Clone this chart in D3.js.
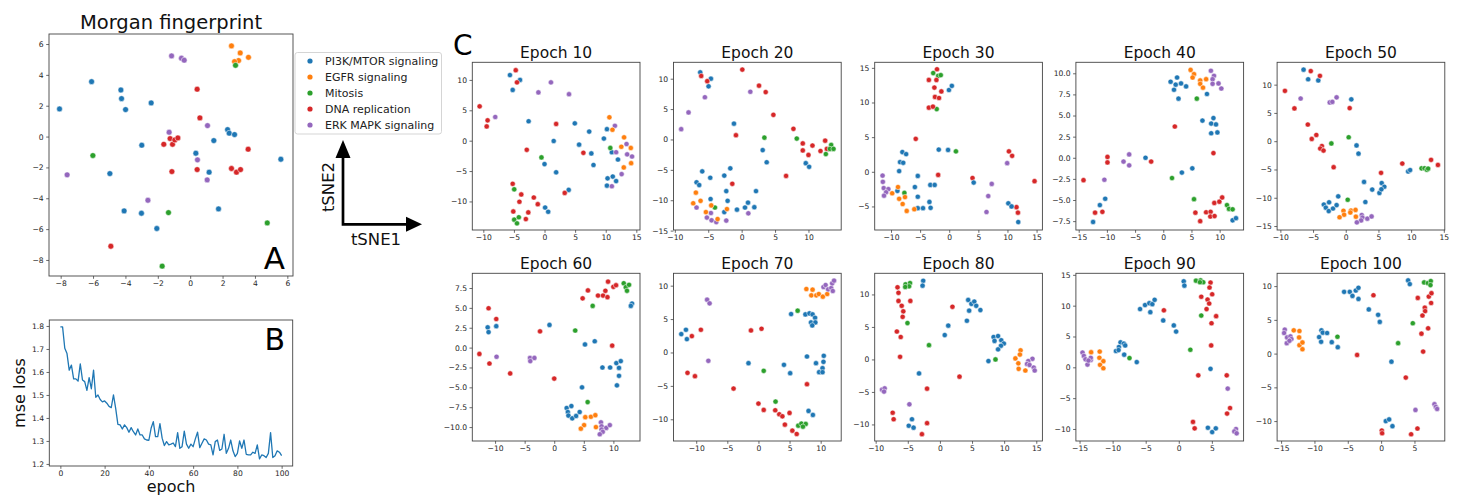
<!DOCTYPE html>
<html>
<head>
<meta charset="utf-8">
<script src="https://cdn.jsdelivr.net/npm/d3@7"></script>
<style>
  body { margin: 0; background: #fff; }
  svg { display: block; }
  text { font-family: "DejaVu Sans", sans-serif; }
</style>
</head>
<body>
<svg id="fig" width="1458" height="498"></svg>
<script>
// ---- categories ----
const pathways = ["PI3K/MTOR signaling", "EGFR signaling", "Mitosis", "DNA replication", "ERK MAPK signaling"];
const palette = ["#1f77b4", "#ff7f0e", "#2ca02c", "#d62728", "#9467bd"];

// ---- Morgan fingerprint t-SNE: [tSNE1, tSNE2, pathway index] ----
const morgan = [
  [2.55,5.88,1],[3.09,5.42,1],[2.99,4.93,1],[2.74,4.86,1],[3.6,5.14,1],
  [2.8,4.62,2],[-6.01,-1.23,2],[-1.34,-4.93,2],[-1.73,-8.4,2],[4.76,-5.6,2],
  [-1.15,5.23,4],[-0.54,5.08,4],[-0.37,4.95,4],[1.07,0.71,4],[-1.3,0.28,4],[0.45,-1.51,4],[1.05,-2.81,4],[-7.6,-2.48,4],[-2.61,-4.13,4],
  [-6.09,3.56,0],[-4.28,3.02,0],[-4.24,2.46,0],[-3.99,1.75,0],[-8.07,1.79,0],[-2.41,2.18,0],[-2.99,-0.56,0],[-4.96,-2.4,0],[2.31,0.45,0],[2.41,0.22,0],[2.74,0.13,0],[1.46,-0.26,0],[0.35,-1.08,0],[1.17,-2.31,0],[5.6,-1.47,0],[-4.08,-4.82,0],[-3.01,-4.97,0],[-2.06,-5.96,0],[1.75,-4.69,0],
  [0.43,3.07,3],[0.6,1.21,3],[-1.63,-0.5,3],[-1.24,-0.13,3],[-1.09,-0.5,3],[-0.95,-0.22,3],[-0.76,-0.09,3],[-1.13,-2.27,3],[0.43,-2.14,3],[2.55,-2.07,3],[2.86,-2.31,3],[3.11,-2.14,3],[3.58,-0.82,3],[-4.9,-7.11,3]
];
const morganXLim = [-8.72, 6.35];
const morganYLim = [-9.04, 6.65];
const morganTicks = [-8, -6, -4, -2, 0, 2, 4, 6];

// ---- training loss per epoch (0..100) ----
const mseLoss = [
  1.796,1.796,1.703,1.68,1.608,1.63,1.57,1.57,1.56,1.635,
  1.565,1.558,1.52,1.575,1.527,1.608,1.49,1.5,1.48,1.47,
  1.474,1.464,1.45,1.445,1.5,1.442,1.372,1.37,1.352,1.37,
  1.358,1.338,1.358,1.34,1.326,1.352,1.326,1.326,1.309,1.304,
  1.303,1.355,1.384,1.319,1.319,1.375,1.312,1.28,1.297,1.283,
  1.286,1.291,1.275,1.336,1.268,1.275,1.343,1.286,1.268,1.286,
  1.275,1.309,1.338,1.271,1.29,1.309,1.304,1.286,1.283,1.239,
  1.297,1.304,1.259,1.265,1.329,1.246,1.268,1.304,1.257,1.232,
  1.246,1.3,1.268,1.304,1.242,1.239,1.239,1.251,1.246,1.283,
  1.222,1.239,1.236,1.228,1.246,1.336,1.228,1.236,1.257,1.251,
  1.236
];
const lossXTicks = [0, 20, 40, 60, 80, 100];
const lossYTicks = [1.2, 1.3, 1.4, 1.5, 1.6, 1.7, 1.8];

// ---- learned embedding t-SNE per epoch: [tSNE1, tSNE2, pathway index] ----
const ep10 = [
  [-5.65,10.8,0],[-4.0,10.0,0],[-5.2,8.35,0],[-2.6,3.2,0],[1.5,-0.05,0],[4.95,2.85,0],[5.65,-0.65,0],[7.3,1.5,0],[7.65,-2.1,0],[8.0,-4.0,0],[10.2,1.9,0],[9.7,0.35,0],[11.0,-1.9,0],[12.0,-3.1,0],[0,-3.85,0],[1.9,-5.2,0],[3.95,-8.1,0],[10.3,-6.2,0],[11.15,-5.9,0],[11.7,-6.65,0],[10.2,-7.4,0],[0.1,-11.0,0],[0.6,-11.7,0],
  [-4.7,11.6,3],[-4.5,9.6,3],[-10.6,5.65,3],[-9.3,3.35,3],[-9.45,2.35,3],[1.9,2.75,3],[-2.9,-1.5,3],[6.35,-2.0,3],[-5.2,-7.1,3],[-3.8,-8.85,3],[-4.1,-10.05,3],[-1.75,-9.35,3],[-1.1,-10.45,3],[-5.1,-11.65,3],[-2.65,-11.8,3],[-3.05,-12.9,3],[3.3,-8.6,3],
  [1.05,9.6,4],[-1.0,7.95,4],[4.0,7.65,4],[-8.05,3.9,4],[11.5,2.45,4],[13.4,-0.55,4],[11.7,-1.9,4],[13.5,-2.25,4],[14.3,-2.6,4],[12.6,-5.5,4],[11.0,-7.5,4],
  [10.6,3.85,1],[11.1,1.8,1],[13.0,0.55,1],[12.55,-1.0,1],[14.1,-1.2,1],[14.15,-3.7,1],[12.95,-4.4,1],
  [-0.5,-2.75,2],[10.75,-1.2,2],[-4.95,-8.0,2],[-4.95,-13.0,2],[-4.5,-13.6,2],[-4.2,-12.6,2]
];
const ep20 = [
  [-6.2,11.05,0],[-4.6,10.0,0],[-4.95,8.75,0],[-1.15,2.6,0],[3.15,-1.75,0],[3.75,-3.75,0],[9.6,-3.9,0],[10.1,-4.5,0],[-5.9,-5.25,0],[-4.7,-6.3,0],[-2.6,-5.95,0],[-1.7,-4.75,0],[-6.75,-7.05,0],[-6.35,-7.5,0],[-2.3,-8.5,0],[2.15,-8.5,0],[-4.65,-9.8,0],[-2.1,-10.1,0],[0.95,-10.4,0],[0.5,-11.2,0],[1.9,-11.15,0],[-0.7,-11.55,0],[-2.6,-11.95,0],
  [0.1,11.5,3],[-6.05,10.45,3],[-5.15,9.6,3],[2.6,8.85,3],[3.6,7.8,3],[4.75,4.05,3],[-0.85,0.7,3],[7.75,1.75,3],[9.15,-0.65,3],[10.6,-1.0,3],[12.5,-0.2,3],[9.15,-1.8,3],[10.0,-2.55,3],[11.8,-1.9,3],[12.75,-1.55,3],[6.65,-6.0,3],[-1.4,-7.3,3],
  [3.4,0.3,2],[8.25,0.15,2],[13.4,-0.9,2],[13.2,-1.55,2],[13.75,-1.55,2],[12.6,-2.4,2],[-4.0,-11.2,2],
  [1.3,7.85,4],[-5.5,6.95,4],[-7.95,4.45,4],[-9.05,1.7,4],[-6.75,-11.2,4],[-4.6,-12.1,4],[-5.2,-12.85,4],[-4.5,-13.3,4],[-3.8,-13.6,4],[-2.3,-13.35,4],[1.0,-12.15,4],
  [-6.85,-8.75,1],[-7.25,-10.5,1],[-6.15,-10.1,1],[-4.55,-10.85,1],[-5.35,-11.95,1],[-2.2,-11.45,1],[-3.6,-13.1,1]
];
const ep30 = [
  [-2.75,14.25,2],[-1.9,13.85,2],[-1.45,13.95,2],[-2.15,9.05,2],[1.15,2.95,2],[-7.7,-3.05,2],
  [-2.1,14.8,3],[-3.5,13.25,3],[-2.2,13.25,3],[-2.55,12.15,3],[-1.35,11.6,3],[-2.45,10.8,3],[-1.75,10.65,3],[-3.5,9.25,3],[-2.8,9.4,3],[-5.75,4.75,3],[-1.9,-0.45,3],[4.0,-0.9,3],[10.25,2.95,3],[10.8,2.3,3],[14.65,-1.35,3],[11.55,-5.1,3],[11.8,-5.9,3],
  [-0.05,11.8,0],[0.45,12.4,0],[-8.05,2.85,0],[-7.4,2.55,0],[-8.45,1.4,0],[-7.9,1.3,0],[-8.6,0.1,0],[-1.8,3.2,0],[-0.2,3.15,0],[-5.4,-0.6,0],[-5.9,-2.2,0],[-3.25,-1.9,0],[-2.5,-1.9,0],[-5.4,-3.6,0],[-8.9,-2.75,0],[-5.4,-5.25,0],[-4.5,-5.25,0],[-3.4,-4.35,0],[-3.2,-5.2,0],[4.2,-1.55,0],[10.15,-4.55,0],[10.7,-5.0,0],[11.85,-7.25,0],
  [-11.45,-0.55,4],[-11.4,-1.45,4],[-11.25,-2.35,4],[-10.45,-2.5,4],[-10.85,-2.95,4],[-11.2,-3.45,4],[9.95,1.25,4],[7.3,-1.75,4],[6.7,-3.5,4],[6.4,-5.8,4],
  [-8.8,-2.2,1],[-9.8,-3.1,1],[-8.6,-3.9,1],[-7.6,-3.65,1],[-8.0,-4.65,1],[-7.3,-5.65,1],[-6.0,-5.4,1]
];
const ep40 = [
  [1.3,9.0,0],[2.45,9.5,0],[2.2,8.65,0],[3.15,8.8,0],[1.9,8.05,0],[4.05,8.45,0],[2.7,7.0,0],[7.75,7.55,0],[8.9,4.7,0],[6.95,4.4,0],[8.5,4.05,0],[9.35,3.95,0],[8.5,2.9,0],[9.6,3.0,0],[-3.15,0.0,0],[3.3,-1.75,0],[5.15,-1.25,0],[-10.3,-4.85,0],[-11.25,-5.6,0],[-12.45,-7.6,0],[12.3,-7.4,0],[12.9,-7.15,0],
  [4.85,10.4,1],[5.45,9.9,1],[5.2,9.5,1],[6.55,9.15,1],[6.55,8.75,1],[7.6,9.3,1],[7.05,8.3,1],
  [8.45,10.3,4],[9.0,9.7,4],[8.75,9.3,4],[9.8,8.8,4],[8.75,8.75,4],[10.3,8.2,4],[-7.05,-0.45,4],[-6.05,0.4,4],[-6.05,-0.9,4],[-10.45,-2.6,4],
  [5.95,7.0,2],[1.55,-2.4,2],[5.45,-4.9,2],[11.3,-5.6,2],[11.65,-6.05,2],[12.3,-6.1,2],
  [2.05,3.7,3],[8.9,0.55,3],[-2.15,-0.45,3],[-9.9,0.1,3],[-9.9,-0.55,3],[-14.15,-2.65,3],[-12.1,-6.5,3],[-10.8,-6.4,3],[5.7,-6.5,3],[6.55,-7.5,3],[7.6,-6.45,3],[8.4,-6.4,3],[8.35,-6.95,3],[9.1,-6.9,3],[9.05,-5.35,3],[9.95,-5.2,3],[10.45,-4.7,3]
];
const ep50 = [
  [-6.45,12.65,0],[-5.75,10.95,0],[-4.2,10.75,0],[0.85,7.4,0],[1.65,-0.75,0],[1.95,-2.2,0],[9.55,-5.35,0],[9.85,-5.1,0],[2.8,-7.2,0],[4.05,-8.55,0],[5.5,-7.4,0],[5.9,-8.05,0],[5.15,-9.15,0],[5.45,-8.5,0],[-1.15,-9.75,0],[3.0,-10.75,0],[-3.35,-11.2,0],[-3.05,-11.75,0],[-2.55,-10.8,0],[-2.6,-12.35,0],[-1.95,-11.9,0],[-1.4,-11.3,0],
  [-5.35,12.4,3],[-3.95,11.55,3],[-9.3,8.9,3],[-7.85,5.8,3],[0.6,5.85,3],[-5.8,2.95,3],[-4.5,1.1,3],[-5.2,0.4,3],[-3.65,-0.85,3],[-3.9,-1.3,3],[-3.4,-1.65,3],[-1.85,-4.6,3],[5.4,-5.6,3],[8.65,-3.95,3],[13.05,-3.3,3],[14.1,-4.2,3],
  [-6.9,7.55,4],[-2.45,6.85,4],[-2.05,6.95,4],[-1.4,7.75,4],[2.45,-13.05,4],[2.55,-13.5,4],[2.35,-14.0,4],[1.7,-14.35,4],[3.3,-13.7,4],[3.95,-13.3,4],
  [-2.2,-0.4,2],[0.45,0.7,2],[0.3,-10.35,2],[11.6,-4.8,2],[12.05,-4.8,2],[12.4,-5.05,2],[12.6,-4.85,2],
  [-0.35,-12.3,1],[0.8,-12.25,1],[1.5,-12.15,1],[-0.25,-13.0,1],[-0.95,-13.45,1],[0.7,-12.6,1],[1.55,-13.35,1]
];
const ep60 = [
  [9.1,8.3,3],[5.7,7.2,3],[7.4,6.55,3],[8.25,6.55,3],[8.65,7.15,3],[9.0,6.35,3],[10.0,7.65,3],[10.45,7.85,3],[4.8,6.2,3],[-11.1,4.95,3],[-9.8,3.6,3],[-2.4,2.05,3],[-12.65,-0.8,3],[-10.95,-2.0,3],[-7.45,-3.25,3],[0,-3.9,3],[9.8,0.25,3],
  [11.75,8.1,2],[12.1,7.6,2],[12.65,7.9,2],[12.3,7.15,2],[6.5,5.25,2],[3.55,2.15,2],[5.65,-6.85,2],
  [13.15,5.55,0],[12.95,5.25,0],[-11.25,2.55,0],[-9.8,2.7,0],[-11.1,1.95,0],[-0.8,2.85,0],[5.2,0.4,0],[6.85,0.8,0],[8.15,-2.5,0],[9.45,-2.5,0],[10.5,-1.95,0],[11.25,-1.7,0],[10.95,-2.55,0],[10.95,-3.55,0],[10.6,-4.75,0],[4.7,-5.0,0],[2.1,-7.6,0],[2.9,-7.35,0],[2.3,-8.1,0],[2.4,-8.55,0],[3.05,-8.9,0],[3.7,-8.6,0],[4.3,-8.1,0],
  [-9.75,-1.15,4],[-4.1,-1.3,4],[-3.35,-1.3,4],[-4.05,-1.7,4],[7.9,-9.4,4],[8.0,-9.9,4],[8.8,-10.1,4],[9.4,-9.75,4],[8.0,-10.3,4],[8.2,-10.6,4],[7.7,-10.9,4],
  [5.25,-8.75,1],[5.05,-9.75,1],[4.5,-10.2,1],[6.2,-8.7,1],[6.95,-8.5,1],[7.05,-10.0,1]
];
const ep70 = [
  [7.7,9.5,1],[8.7,9.4,1],[8.5,8.55,1],[9.3,8.55,1],[9.7,8.75,1],[10.35,8.35,1],[11.05,8.75,1],
  [10.45,9.8,4],[10.8,10.1,4],[11.2,9.45,4],[11.7,9.65,4],[11.95,9.2,4],[11.85,10.35,4],[12.15,10.75,4],[-8.25,7.9,4],[-7.85,7.35,4],[-8.05,-1.25,4],
  [6.3,6.25,2],[0.85,-2.75,2],[2.75,-7.35,2],[6.4,-10.95,2],[6.9,-10.65,2],[7.6,-10.7,2],[7.15,-11.1,2],
  [5.25,5.75,0],[7.55,5.7,0],[8.2,5.85,0],[8.7,5.7,0],[9.1,5.2,0],[8.45,4.5,0],[9.15,4.5,0],[8.65,4.05,0],[-12.4,2.75,0],[-11.65,3.4,0],[-11.5,2.0,0],[7.8,-0.6,0],[10.5,-0.5,0],[10.45,-1.4,0],[9.25,-1.6,0],[10.3,-2.35,0],[9.75,-2.95,0],[10.3,-2.95,0],[-1.6,-1.6,0],[4.1,-1.85,0],[5.1,-3.1,0],[8.05,-8.75,0],[8.75,-9.35,0],
  [-10.7,2.45,3],[-9.25,3.4,3],[-1.2,3.3,3],[0.5,3.55,3],[-11.4,-3.05,3],[-10.2,-3.55,3],[-4.0,-5.4,3],[7.8,-4.75,3],[0,-7.65,3],[0.85,-8.6,3],[2.7,-8.65,3],[3.35,-9.25,3],[3.85,-9.55,3],[5.0,-9.05,3],[4.25,-10.8,3],[5.45,-11.7,3],[6.15,-12.2,3]
];
const ep80 = [
  [-2.6,12.1,0],[-2.7,11.35,0],[4.4,9.15,0],[4.9,8.55,0],[5.35,8.9,0],[5.65,8.25,0],[6.3,7.6,0],[4.55,7.5,0],[4.2,5.95,0],[1.3,5.2,0],[0.75,3.75,0],[8.35,3.45,0],[9.05,3.6,0],[8.5,2.85,0],[9.55,2.95,0],[9.95,2.45,0],[9.5,2.1,0],[9.05,1.55,0],[7.55,-0.25,0],[-3.25,-2.15,0],[-4.35,-9.2,0],[-4.85,-10.2,0],[-4.1,-10.5,0],
  [-5.35,11.55,2],[-4.65,11.75,2],[-4.8,11.25,2],[-5.4,11.15,2],[-5.05,5.6,2],[-1.7,2.2,2],[8.65,0.0,2],
  [-6.6,11.1,3],[-6.45,10.25,3],[-6.45,9.0,3],[-4.6,9.0,3],[-5.95,8.25,3],[-5.7,7.4,3],[-5.8,6.55,3],[-6.7,4.3,3],[-6.1,3.45,3],[-6.2,0.4,3],[1.95,8.1,3],[3.05,-2.65,3],[-2.0,-4.5,3],[-7.35,-8.2,3],[-7.2,-9.2,3],[-2.0,-9.8,3],[-2.8,-11.5,3],
  [12.55,1.4,1],[12.45,0.75,1],[11.75,0.15,1],[12.2,-0.6,1],[12.25,-1.45,1],[13.3,-1.7,1],
  [14.4,0.1,4],[13.75,-0.25,4],[13.55,-0.7,4],[13.95,-0.85,4],[14.6,-1.25,4],[14.75,-1.7,4],[-9.0,-4.65,4],[-8.6,-4.45,4],[-8.7,-4.95,4],[-4.75,-6.9,4]
];
const ep90 = [
  [0.75,13.95,0],[0.85,13.25,0],[-5.85,9.45,0],[-5.1,10.1,0],[-4.45,10.4,0],[-4.0,10.25,0],[-3.65,10.95,0],[-4.3,8.95,0],[-2.35,7.6,0],[-0.75,6.8,0],[-0.4,5.8,0],[-8.8,4.05,0],[-8.3,3.85,0],[-9.05,3.3,0],[-9.5,2.65,0],[-9.1,2.8,0],[-8.1,3.55,0],[-8.25,2.05,0],[-6.35,0.85,0],[4.8,-0.25,0],[4.4,-9.8,0],[5.05,-10.5,0],[5.6,-9.9,0],
  [2.6,14.05,2],[3.3,14.1,2],[3.7,13.8,2],[3.2,13.8,2],[3.4,8.4,2],[1.75,2.85,2],[-7.45,1.5,2],
  [4.8,13.75,3],[4.65,12.95,3],[5.05,11.85,3],[3.4,11.45,3],[4.35,11.0,3],[4.6,10.35,3],[4.2,9.45,3],[5.65,8.3,3],[4.95,7.15,3],[4.9,3.55,3],[-2.25,9.25,3],[2.95,-1.3,3],[7.25,-1.3,3],[7.75,-6.6,3],[7.3,-7.5,3],[2.15,-8.85,3],[2.4,-9.9,3],
  [7.4,-3.45,4],[8.65,-10.0,4],[8.4,-10.4,4],[8.75,-10.7,4],[-14.55,2.4,4],[-14.35,1.85,4],[-14.1,1.3,4],[-13.8,0.45,4],[-13.3,1.2,4],[-13.3,1.55,4],[-13.65,1.1,4],
  [-13.25,2.45,1],[-11.95,2.55,1],[-12.0,1.55,1],[-11.4,1.0,1],[-11.9,0.4,1],[-11.4,-0.15,1]
];
const ep100 = [
  [-14.45,3.55,4],[-14.55,3.05,4],[-14.1,2.4,4],[-13.6,2.55,4],[-13.45,2.15,4],[-14.15,1.55,4],[-13.75,1.9,4],[5.15,-8.35,4],[8.0,-7.5,4],[8.2,-7.9,4],[8.4,-8.2,4],
  [-13.1,3.45,1],[-12.25,3.35,1],[-12.3,2.4,1],[-12.25,1.25,1],[-11.8,1.65,1],[-11.8,0.65,1],
  [-9.3,2.45,0],[-8.95,3.45,0],[-8.75,3.1,0],[-9.0,1.75,0],[-8.1,3.05,0],[-7.4,1.7,0],[-6.5,0.95,0],[-5.55,9.15,0],[-4.7,9.15,0],[-4.3,8.55,0],[-3.8,9.35,0],[-3.4,9.75,0],[-3.4,8.1,0],[-1.85,6.55,0],[-0.45,5.75,0],[-0.2,4.7,0],[4.05,10.85,0],[4.3,10.3,0],[1.55,-1.2,0],[0.7,-10.0,0],[1.2,-9.75,0],[1.7,-10.75,0],
  [6.45,10.55,2],[7.0,10.45,2],[7.45,10.75,2],[7.4,10.15,2],[-6.55,2.5,2],[4.75,4.5,2],[2.55,1.55,2],
  [-1.15,8.65,3],[5.5,8.25,3],[7.15,8.45,3],[7.55,8.95,3],[7.5,7.5,3],[6.55,6.8,3],[6.6,6.3,3],[6.2,5.65,3],[7.05,3.75,3],[6.05,2.95,3],[6.3,0.3,3],[-3.6,-0.2,3],[3.7,-3.55,3],[5.45,-11.1,3],[0.1,-11.4,3],[0.15,-11.8,3],[4.5,-11.95,3]
];

const epochLabels = ["Epoch 10", "Epoch 20", "Epoch 30", "Epoch 40", "Epoch 50", "Epoch 60", "Epoch 70", "Epoch 80", "Epoch 90", "Epoch 100"];
const epochClouds = [ep10, ep20, ep30, ep40, ep50, ep60, ep70, ep80, ep90, ep100];
const epochXLim = [[-11.8,15.6],[-10.2,14.9],[-12.8,16.0],[-15.5,14.25],[-10.5,15.15],[-13.85,14.5],[-13.65,13.3],[-10.15,15.95],[-15.55,9.8],[-15.6,9.55]];
const epochYLim = [[-14.7,12.9],[-14.9,12.7],[-8.4,15.8],[-8.55,11.3],[-15.7,13.95],[-11.75,9.35],[-13.25,11.85],[-12.55,13.25],[-11.95,15.25],[-12.95,11.9]];
const epochXTicks = [
  [-10,-5,0,5,10,15],[-10,-5,0,5,10],[-10,-5,0,5,10,15],[-15,-10,-5,0,5,10],[-10,-5,0,5,10,15],
  [-10,-5,0,5,10],[-10,-5,0,5,10],[-10,-5,0,5,10,15],[-15,-10,-5,0,5],[-15,-10,-5,0,5]
];
const epochYTicks = [
  [-10,-5,0,5,10],[-15,-10,-5,0,5,10],[-5,0,5,10,15],[-7.5,-5,-2.5,0,2.5,5,7.5,10],[-15,-10,-5,0,5,10],
  [-10,-7.5,-5,-2.5,0,2.5,5,7.5],[-10,-5,0,5,10],[-10,-5,0,5,10],[-10,-5,0,5,10,15],[-10,-5,0,5,10]
];
const epochYFormat = ["d","d","d",".1f","d",".1f","d","d","d","d"];

// ---- drawing ----
const svg = d3.select("#fig");
const TICK_FONT = 7.6;
const SPINE = "#444";

function styleAxis(sel) {
  sel.select(".domain").remove();
  sel.selectAll(".tick line").attr("stroke", SPINE).attr("stroke-width", 0.8);
  sel.selectAll(".tick text")
    .attr("fill", "#262626")
    .attr("font-size", TICK_FONT)
    .attr("font-family", "DejaVu Sans, sans-serif");
}

function frame(box) {
  svg.append("rect")
    .attr("x", box.x).attr("y", box.y)
    .attr("width", box.w).attr("height", box.h)
    .attr("fill", "none").attr("stroke", SPINE).attr("stroke-width", 0.9);
}

function axes(box, x, y, xticks, yticks, xfmt, yfmt) {
  svg.append("g")
    .attr("transform", `translate(0,${box.y + box.h})`)
    .call(d3.axisBottom(x).tickValues(xticks).tickFormat(d3.format(xfmt)).tickSize(2.8).tickPadding(2))
    .call(styleAxis);
  svg.append("g")
    .attr("transform", `translate(${box.x},0)`)
    .call(d3.axisLeft(y).tickValues(yticks).tickFormat(d3.format(yfmt)).tickSize(2.8).tickPadding(2.5))
    .call(styleAxis);
}

function scatterPanel(box, pts, xlim, ylim, xticks, yticks, xfmt, yfmt, r) {
  const x = d3.scaleLinear().domain(xlim).range([box.x, box.x + box.w]);
  const y = d3.scaleLinear().domain(ylim).range([box.y + box.h, box.y]);
  axes(box, x, y, xticks, yticks, xfmt, yfmt);
  svg.append("g").selectAll("circle").data(pts).join("circle")
    .attr("cx", d => x(d[0])).attr("cy", d => y(d[1]))
    .attr("r", r)
    .attr("fill", d => palette[d[2]])
    .attr("stroke", "#fff").attr("stroke-width", 0.5);
  frame(box);
}

// Panel A: Morgan fingerprint embedding
const boxA = { x: 49, y: 34, w: 244, h: 242 };
scatterPanel(boxA, morgan, morganXLim, morganYLim, morganTicks, morganTicks, "d", "d", 2.9);
svg.append("text").attr("x", boxA.x + boxA.w / 2).attr("y", boxA.y - 5)
  .attr("text-anchor", "middle").attr("font-size", 19.5).attr("fill", "#111")
  .text("Morgan fingerprint");
svg.append("text").attr("x", 285).attr("y", 269)
  .attr("text-anchor", "end").attr("font-size", 31).attr("fill", "#000").text("A");

// Panel B: loss curve
const boxB = { x: 49.3, y: 320, w: 243.4, h: 146 };
const xL = d3.scaleLinear().domain([-5, 105]).range([boxB.x, boxB.x + boxB.w]);
const yL = d3.scaleLinear().domain([1.191, 1.826]).range([boxB.y + boxB.h, boxB.y]);
axes(boxB, xL, yL, lossXTicks, lossYTicks, "d", ".1f");
svg.append("path")
  .datum(mseLoss)
  .attr("fill", "none").attr("stroke", palette[0]).attr("stroke-width", 1.3)
  .attr("stroke-linejoin", "round")
  .attr("d", d3.line().x((d, i) => xL(i)).y(d => yL(d)));
frame(boxB);
svg.append("text").attr("x", 285).attr("y", 350)
  .attr("text-anchor", "end").attr("font-size", 30).attr("fill", "#000").text("B");
svg.append("text").attr("x", boxB.x + boxB.w / 2).attr("y", 492)
  .attr("text-anchor", "middle").attr("font-size", 16).attr("fill", "#111").text("epoch");
svg.append("text")
  .attr("transform", `translate(25,${boxB.y + boxB.h / 2}) rotate(-90)`)
  .attr("text-anchor", "middle").attr("font-size", 16).attr("fill", "#111").text("mse loss");

// Legend
const legend = svg.append("g");
legend.append("rect").attr("x", 295).attr("y", 52.5).attr("width", 146.5).attr("height", 81.5)
  .attr("rx", 2.5).attr("fill", "#fff").attr("stroke", "#d0d0d0").attr("stroke-width", 0.9);
pathways.forEach((name, i) => {
  const cy = 61 + i * 16;
  legend.append("circle").attr("cx", 310).attr("cy", cy).attr("r", 2.6).attr("fill", palette[i]);
  legend.append("text").attr("x", 325).attr("y", cy + 4)
    .attr("font-size", 11).attr("fill", "#222").text(name);
});

// Axis-direction glyph
const ox = 343, oy = 224.3;
svg.append("path").attr("d", `M${ox},${oy} V152 M${ox},${oy} H410`)
  .attr("stroke", "#000").attr("stroke-width", 2.7).attr("fill", "none").attr("stroke-linecap", "square");
svg.append("path").attr("d", `M${ox},140 L${ox - 7.5},158 L${ox + 7.5},158 Z`).attr("fill", "#000");
svg.append("path").attr("d", `M422,${oy} L406,${oy - 7.5} L406,${oy + 7.5} Z`).attr("fill", "#000");
svg.append("text")
  .attr("transform", `translate(334,187) rotate(-90)`)
  .attr("text-anchor", "middle").attr("font-size", 16.5).attr("fill", "#111").text("tSNE2");
svg.append("text").attr("x", 376).attr("y", 245)
  .attr("text-anchor", "middle").attr("font-size", 16.5).attr("fill", "#111").text("tSNE1");

// Panel C: embeddings across training
svg.append("text").attr("x", 453).attr("y", 55)
  .attr("font-size", 28).attr("fill", "#000").text("C");

const colLeft = 472.3, colStep = 201.2, rowTops = [62.3, 273.3], side = 167.7;
epochClouds.forEach((pts, k) => {
  const row = Math.floor(k / 5), col = k % 5;
  const box = { x: colLeft + col * colStep, y: rowTops[row], w: side, h: side };
  scatterPanel(box, pts, epochXLim[k], epochYLim[k], epochXTicks[k], epochYTicks[k], "d", epochYFormat[k], 2.6);
  svg.append("text").attr("x", box.x + box.w / 2).attr("y", box.y - 4)
    .attr("text-anchor", "middle").attr("font-size", 15.5).attr("fill", "#111")
    .text(epochLabels[k]);
});
</script>
</body>
</html>
